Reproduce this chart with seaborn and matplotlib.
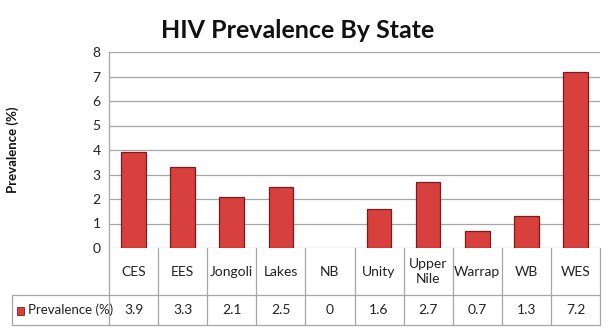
import matplotlib
matplotlib.use("Agg")
import matplotlib.pyplot as plt
import seaborn as sns
import pandas as pd
from matplotlib.lines import Line2D
from matplotlib.patches import Rectangle

categories = ["CES", "EES", "Jongoli", "Lakes", "NB", "Unity", "Upper\nNile", "Warrap", "WB", "WES"]
values = [3.9, 3.3, 2.1, 2.5, 0, 1.6, 2.7, 0.7, 1.3, 7.2]
value_labels = ["3.9", "3.3", "2.1", "2.5", "0", "1.6", "2.7", "0.7", "1.3", "7.2"]
yticks = [0, 1, 2, 3, 4, 5, 6, 7, 8]
series_name = "Prevalence (%)"
title = "HIV Prevalence By State"

sns.set_style("white")
plt.rcParams['font.family'] = ['Lato', 'DejaVu Sans']

W, H = 611, 335
fig = plt.figure(figsize=(W / 100, H / 100), dpi=100)
L, R, B, T = 109, 600, 248, 52
ax = fig.add_axes([L / W, 1 - B / H, (R - L) / W, (B - T) / H])

df = pd.DataFrame({"cat": categories, "val": values})
sns.barplot(data=df, x="cat", y="val", ax=ax, color="#D8403E", width=0.5,
            edgecolor="#7E1A1A", linewidth=0.9, saturation=1, zorder=3)
for p in ax.patches:
    if p.get_height() == 0:
        p.set_linewidth(0)

ax.set_xlim(-0.5, len(categories) - 0.5)
ax.set_ylim(0, 8)
ax.set_yticks(yticks)
ax.set_yticklabels([str(t) for t in yticks], fontsize=10, color="#222222")
ax.tick_params(axis="y", length=0, pad=6)
ax.set_xticks([])
ax.set_xlabel("")
ax.set_ylabel("")
ax.grid(axis="y", color="#A6A6A6", linewidth=0.9, zorder=0)
for s in ["top", "right", "bottom"]:
    ax.spines[s].set_visible(False)
ax.spines["left"].set_color("#A6A6A6")
ax.spines["left"].set_linewidth(0.9)

# table below the axes
line_c = "#A6A6A6"
def fy(py):
    return 1 - py / H
def fx(px):
    return px / W

row1_bot = 295
row2_bot = 325
left_edge = 12
cw = (R - L) / len(categories)
for i in range(len(categories) + 1):
    x = L + i * cw
    fig.add_artist(Line2D([fx(x), fx(x)], [fy(B), fy(row2_bot)], color=line_c, lw=0.9))
fig.add_artist(Line2D([fx(left_edge), fx(R)], [fy(row1_bot), fy(row1_bot)], color=line_c, lw=0.9))
fig.add_artist(Line2D([fx(left_edge), fx(R)], [fy(row2_bot), fy(row2_bot)], color=line_c, lw=0.9))
fig.add_artist(Line2D([fx(left_edge), fx(left_edge)], [fy(row1_bot), fy(row2_bot)], color=line_c, lw=0.9))

for i, (c, v) in enumerate(zip(categories, value_labels)):
    xc = L + (i + 0.5) * cw
    fig.text(fx(xc), fy((B + row1_bot) / 2), c, ha="center", va="center",
             fontsize=10, color="#222222", linespacing=1.3)
    fig.text(fx(xc), fy((row1_bot + row2_bot) / 2), v, ha="center", va="center",
             fontsize=10, color="#222222")

fig.add_artist(Rectangle((fx(17), fy(315)), 7 / W, 8 / H, facecolor="#D8403E",
                         edgecolor="#7E1A1A", lw=0.6))
fig.text(fx(28), fy((row1_bot + row2_bot) / 2), series_name, ha="left", va="center",
         fontsize=9.5, color="#222222")

fig.text(fx(298), fy(31), title, ha="center", va="center", fontsize=18,
         fontweight="bold", color="#111111")
fig.text(fx(13), fy(150), series_name, ha="center", va="center", rotation=90,
         fontsize=9.5, fontweight="bold", color="#111111")

fig.savefig("out.png", dpi=100)
